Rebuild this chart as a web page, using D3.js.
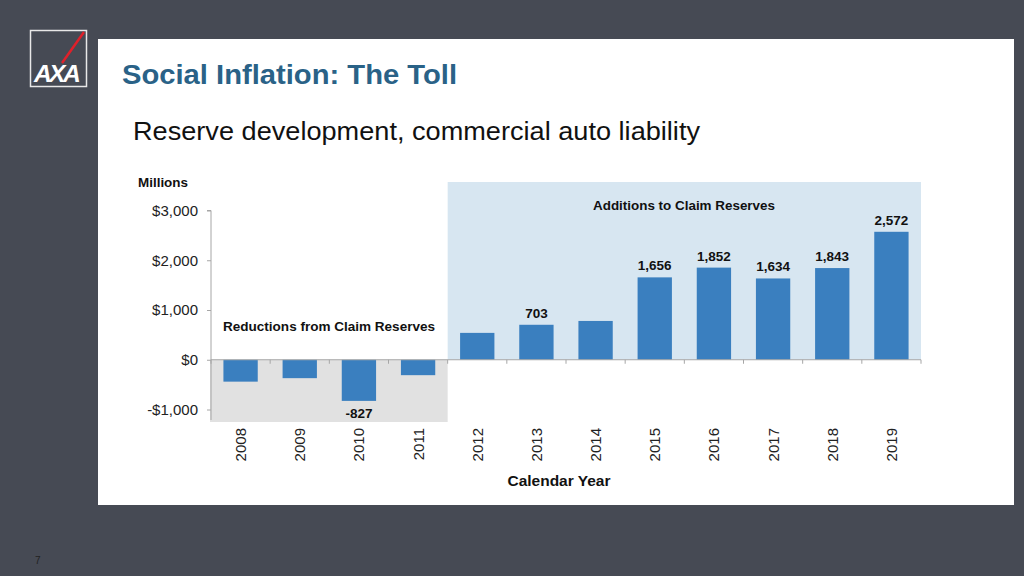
<!DOCTYPE html>
<html><head><meta charset="utf-8">
<script src="https://cdn.jsdelivr.net/npm/d3@7"></script>
<style>body{margin:0;background:#464a54;}svg{display:block;font-family:"Liberation Sans",Arial,sans-serif;}</style>
</head><body>
<svg id="c" width="1024" height="576"></svg>
<script>
const years = ["2008","2009","2010","2011","2012","2013","2014","2015","2016","2017","2018","2019"];
const values = [-440,-370,-827,-310,540,703,780,1656,1852,1634,1843,2572];
const labeledYears = ["2010","2013","2015","2016","2017","2018","2019"];
const yTicks = [-1000,0,1000,2000,3000];
const reductionYears = ["2008","2009","2010","2011"];
const additionYears = ["2012","2013","2014","2015","2016","2017","2018","2019"];

const svg = d3.select("#c");
svg.append("rect").attr("width",1024).attr("height",576).attr("fill","#464a54");
svg.append("rect").attr("x",98).attr("y",39).attr("width",916).attr("height",466).attr("fill","#ffffff");

// logo
const logo = svg.append("g");
logo.append("rect").attr("x",30.5).attr("y",30.5).attr("width",56).attr("height",56).attr("fill","none").attr("stroke","#e8e8e8").attr("stroke-width",1.5);
logo.append("line").attr("x1",62).attr("y1",63).attr("x2",84).attr("y2",32).attr("stroke","#e0202a").attr("stroke-width",2.5);
logo.append("text").attr("x",56).attr("y",82).attr("text-anchor","middle").attr("fill","#ffffff")
  .attr("font-size",23).attr("font-weight","bold").attr("font-style","italic").attr("letter-spacing",-2.5)
  .attr("textLength",44).attr("lengthAdjust","spacingAndGlyphs").text("AXA");

svg.append("text").attr("x",35).attr("y",564).attr("fill","#222").attr("font-size",10).text("7");

svg.append("text").attr("x",122).attr("y",84).attr("fill","#2a6287").attr("font-size",27).attr("font-weight","bold")
  .attr("textLength",335).attr("lengthAdjust","spacingAndGlyphs").text("Social Inflation: The Toll");
svg.append("text").attr("x",133).attr("y",140).attr("fill","#111").attr("font-size",25)
  .attr("textLength",567).attr("lengthAdjust","spacingAndGlyphs").text("Reserve development, commercial auto liability");

const x = d3.scaleBand().domain(years).range([211,921]).paddingInner(0.42).paddingOuter(0.21);
const y = d3.scaleLinear().domain([-1000,3000]).range([409.5,210.5]);
const step = x.step();
const gap = (step - x.bandwidth())/2;

// shaded regions
const xLeft = x(reductionYears[0]) - gap - 1;
const xSplit = x(additionYears[0]) - gap;
const xRight = x(additionYears[additionYears.length-1]) + x.bandwidth() + gap;
svg.append("rect").attr("x",xLeft).attr("y",y(0)).attr("width",xSplit - xLeft).attr("height",422 - y(0)).attr("fill","#e1e1e1");
svg.append("rect").attr("x",xSplit).attr("y",182).attr("width",xRight - xSplit).attr("height",y(0)-182).attr("fill","#d7e6f1");

// bars
svg.append("g").selectAll("rect").data(years).join("rect")
  .attr("x",d=>x(d)).attr("width",x.bandwidth())
  .attr("y",(d,i)=>y(Math.max(0,values[i])))
  .attr("height",(d,i)=>Math.abs(y(values[i])-y(0)))
  .attr("fill","#3a7fbf");

// value labels
const fmt = d3.format(",");
svg.append("g").selectAll("text").data(years.filter(d=>labeledYears.includes(d))).join("text")
  .attr("x",d=>x(d)+x.bandwidth()/2)
  .attr("y",d=>{const v=values[years.indexOf(d)]; return v<0 ? y(v)+17 : y(v)-7;})
  .attr("text-anchor","middle").attr("font-size",13.5).attr("font-weight","bold").attr("fill","#111")
  .text(d=>{const v=values[years.indexOf(d)]; return v<0 ? "-"+fmt(-v) : fmt(v);});

// y axis
const yAxis = d3.axisLeft(y).tickValues(yTicks).tickSize(4).tickPadding(9)
  .tickFormat(d=> d<0 ? "-$"+fmt(-d) : "$"+fmt(d));
const gy = svg.append("g").attr("transform","translate(211,0)").call(yAxis);
gy.select(".domain").attr("stroke","#a6a6a6").attr("d","M-4,"+y(3000)+"H0V420");
gy.selectAll(".tick line").attr("stroke","#a6a6a6");
gy.selectAll(".tick text").attr("font-size",15).attr("fill","#222").attr("font-family","Liberation Sans, Arial, sans-serif");

// x axis at zero
const gx = svg.append("g").attr("transform",`translate(0,${y(0)})`);
gx.append("line").attr("x1",211).attr("x2",921).attr("stroke","#a6a6a6");
gx.selectAll("line.t").data(d3.range(years.length+1)).join("line").attr("class","t")
  .attr("x1",i=>211+i*step).attr("x2",i=>211+i*step).attr("y1",0).attr("y2",4).attr("stroke","#a6a6a6");

// x tick labels rotated
svg.append("g").selectAll("text").data(years).join("text")
  .attr("transform",d=>`translate(${x(d)+x.bandwidth()/2+5.5},428) rotate(-90)`)
  .attr("text-anchor","end").attr("font-size",15).attr("fill","#222").text(d=>d);

svg.append("text").attr("x",559).attr("y",486).attr("text-anchor","middle").attr("font-size",15).attr("font-weight","bold").attr("fill","#111")
  .attr("textLength",103).attr("lengthAdjust","spacingAndGlyphs").text("Calendar Year");
svg.append("text").attr("x",138).attr("y",187).attr("font-size",13).attr("font-weight","bold").attr("fill","#111")
  .attr("textLength",50).attr("lengthAdjust","spacingAndGlyphs").text("Millions");
svg.append("text").attr("x",223).attr("y",331).attr("font-size",13).attr("font-weight","bold").attr("fill","#111")
  .attr("textLength",212).attr("lengthAdjust","spacingAndGlyphs").text("Reductions from Claim Reserves");
svg.append("text").attr("x",684).attr("y",210).attr("text-anchor","middle").attr("font-size",13).attr("font-weight","bold").attr("fill","#111")
  .attr("textLength",182).attr("lengthAdjust","spacingAndGlyphs").text("Additions to Claim Reserves");
</script>
</body></html>
